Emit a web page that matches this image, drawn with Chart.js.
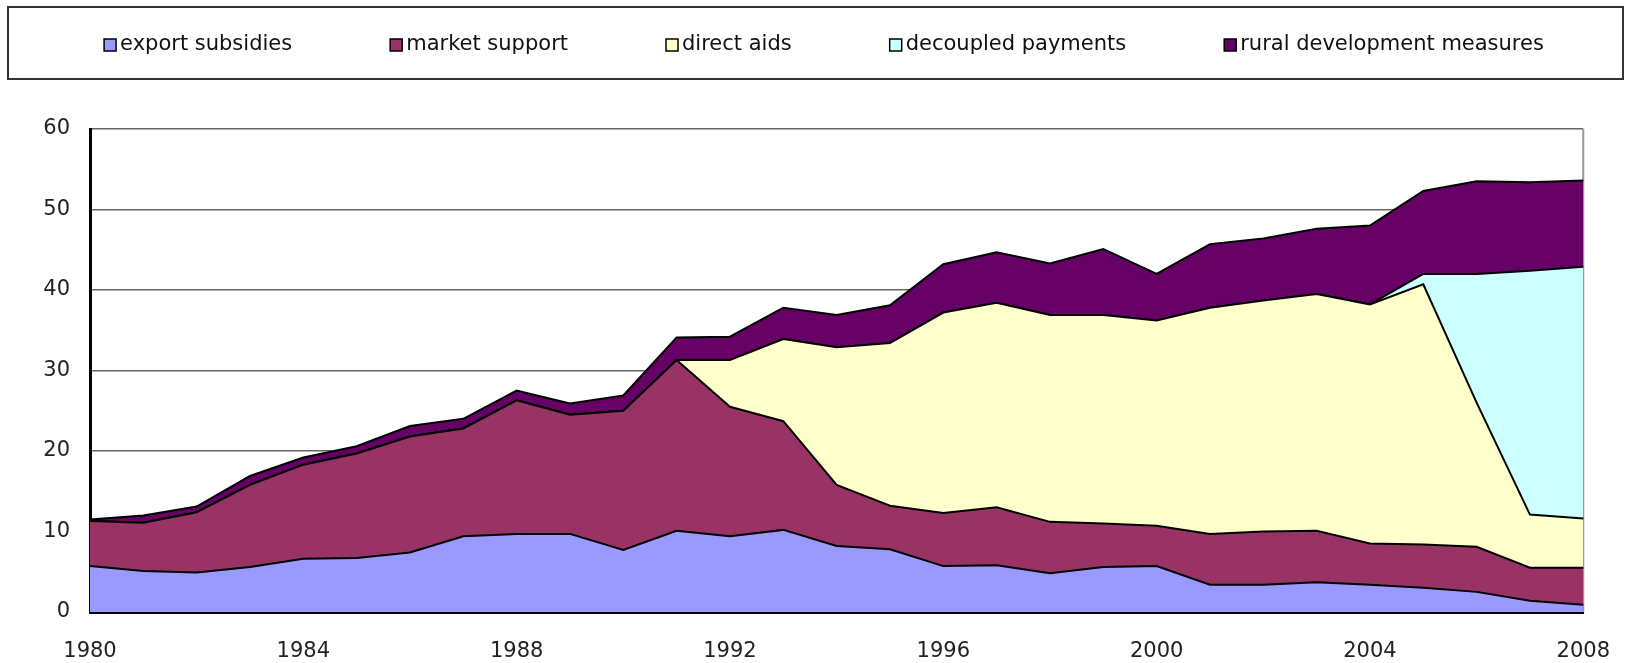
<!DOCTYPE html>
<html>
<head>
<meta charset="utf-8">
<script src="https://cdn.jsdelivr.net/npm/chart.js@4/dist/chart.umd.min.js"></script>
<style>
  html, body { margin: 0; padding: 0; background: #fff; }
</style>
</head>
<body>
<canvas id="chart" width="1637" height="663"></canvas>
<script>
// CAP expenditure by instrument, 1980-2008 (stacked areas)
const years = [
  '1980', '1981', '1982', '1983', '1984', '1985', '1986', '1987', '1988', '1989',
  '1990', '1991', '1992', '1993', '1994', '1995', '1996', '1997', '1998', '1999',
  '2000', '2001', '2002', '2003', '2004', '2005', '2006', '2007', '2008'
];
const tickYears = ['1980', '1984', '1988', '1992', '1996', '2000', '2004', '2008'];

const exportSubsidies = [
  5.7, 5.1, 4.9, 5.6, 6.6, 6.7, 7.4, 9.4, 9.7, 9.7,
  7.7, 10.1, 9.4, 10.2, 8.2, 7.8, 5.7, 5.8, 4.8, 5.6,
  5.7, 3.4, 3.4, 3.7, 3.4, 3.0, 2.5, 1.4, 0.9
];
const marketSupport = [
  5.6, 6.0, 7.5, 10.2, 11.7, 13.0, 14.4, 13.4, 16.6, 14.8,
  17.3, 21.2, 16.1, 13.5, 7.6, 5.4, 6.6, 7.2, 6.4, 5.4,
  5.0, 6.3, 6.6, 6.4, 5.1, 5.4, 5.6, 4.1, 4.6
];
const directAids = [
  0, 0, 0, 0, 0, 0, 0, 0, 0, 0,
  0, 0, 5.8, 10.2, 17.1, 20.2, 24.9, 25.4, 25.7, 25.9,
  25.5, 28.1, 28.7, 29.4, 29.7, 32.3, 17.9, 6.6, 6.1
];
const decoupledPayments = [
  0, 0, 0, 0, 0, 0, 0, 0, 0, 0,
  0, 0, 0, 0, 0, 0, 0, 0, 0, 0,
  0, 0, 0, 0, 0, 1.3, 16.0, 30.3, 31.3
];
const ruralDevelopment = [
  0.2, 0.9, 0.7, 1.1, 0.9, 0.9, 1.3, 1.2, 1.2, 1.4,
  1.9, 2.8, 2.9, 3.9, 4.0, 4.7, 6.0, 6.3, 6.4, 8.2,
  5.8, 7.9, 7.7, 8.1, 9.8, 10.3, 11.5, 11.0, 10.7
];

const seriesNames = [
  'export subsidies', 'market support', 'direct aids',
  'decoupled payments', 'rural development measures'
];
const seriesColors = ['#9999FF', '#993366', '#FFFFCC', '#CCFFFF', '#660066'];
const seriesData = [exportSubsidies, marketSupport, directAids, decoupledPayments, ruralDevelopment];

const FONT = '"DejaVu Sans", Verdana, sans-serif';

// Boxed legend across the top, drawn from the dataset labels and colours
const boxedLegend = {
  id: 'boxedLegend',
  afterDraw(chart) {
    const ctx = chart.ctx;
    ctx.save();
    ctx.strokeStyle = '#333';
    ctx.lineWidth = 2;
    ctx.strokeRect(8, 7, 1615, 72);

    ctx.font = '21px ' + FONT;
    ctx.textBaseline = 'middle';
    const sq = 12, gap = 98, textOff = 16, cy = 45;
    const items = chart.data.datasets.map(ds => ({
      text: ds.label, color: ds.backgroundColor,
      w: textOff + ctx.measureText(ds.label).width
    }));
    const total = items.reduce((s, it) => s + it.w, 0) + gap * (items.length - 1);
    let x = 824 - total / 2;
    items.forEach(it => {
      ctx.fillStyle = it.color;
      ctx.fillRect(x, cy - sq / 2, sq, sq);
      ctx.strokeStyle = '#000';
      ctx.lineWidth = 1.5;
      ctx.strokeRect(x, cy - sq / 2, sq, sq);
      ctx.fillStyle = '#111';
      ctx.fillText(it.text, x + textOff, cy);
      x += it.w + gap;
    });
    ctx.restore();
  }
};

// Grey frame on the right-hand side of the plot area
const rightFrame = {
  id: 'rightFrame',
  beforeDatasetsDraw(chart) {
    const { ctx, chartArea } = chart;
    ctx.save();
    ctx.strokeStyle = '#999';
    ctx.lineWidth = 2;
    ctx.beginPath();
    ctx.moveTo(chartArea.right, chartArea.top);
    ctx.lineTo(chartArea.right, chartArea.bottom);
    ctx.stroke();
    ctx.restore();
  }
};

new Chart(document.getElementById('chart'), {
  type: 'line',
  data: {
    labels: years,
    datasets: seriesData.map((data, i) => ({
      label: seriesNames[i],
      data,
      backgroundColor: seriesColors[i],
      borderColor: '#000',
      borderWidth: 2,
      fill: i === 0 ? 'origin' : '-1',
      pointRadius: 0,
      tension: 0,
    })),
  },
  options: {
    responsive: false,
    devicePixelRatio: 1,
    animation: false,
    layout: { padding: { top: 129, right: 51, left: 0, bottom: 0 } },
    scales: {
      x: {
        type: 'category',
        offset: false,
        grid: { color: 'rgba(0,0,0,0)', drawTicks: false },
        border: { color: '#000', width: 3 },
        ticks: {
          autoSkip: false,
          maxRotation: 0,
          padding: 27,
          color: '#222',
          font: { family: FONT, size: 21 },
          callback: function (value) {
            const lbl = this.getLabelForValue(value);
            return tickYears.includes(lbl) ? lbl : '';
          },
        },
        afterFit: scale => { scale.height = 51; },
      },
      y: {
        stacked: true,
        min: 0,
        max: 60,
        grid: { color: '#666', lineWidth: 1.5, drawTicks: false },
        border: { color: '#000', width: 3 },
        ticks: {
          stepSize: 10,
          padding: 20,
          color: '#222',
          font: { family: FONT, size: 21 },
        },
        afterFit: scale => { scale.width = 90; },
      },
    },
    plugins: {
      legend: { display: false },
      tooltip: { enabled: false },
    },
  },
  plugins: [rightFrame, boxedLegend],
});
</script>
</body>
</html>
